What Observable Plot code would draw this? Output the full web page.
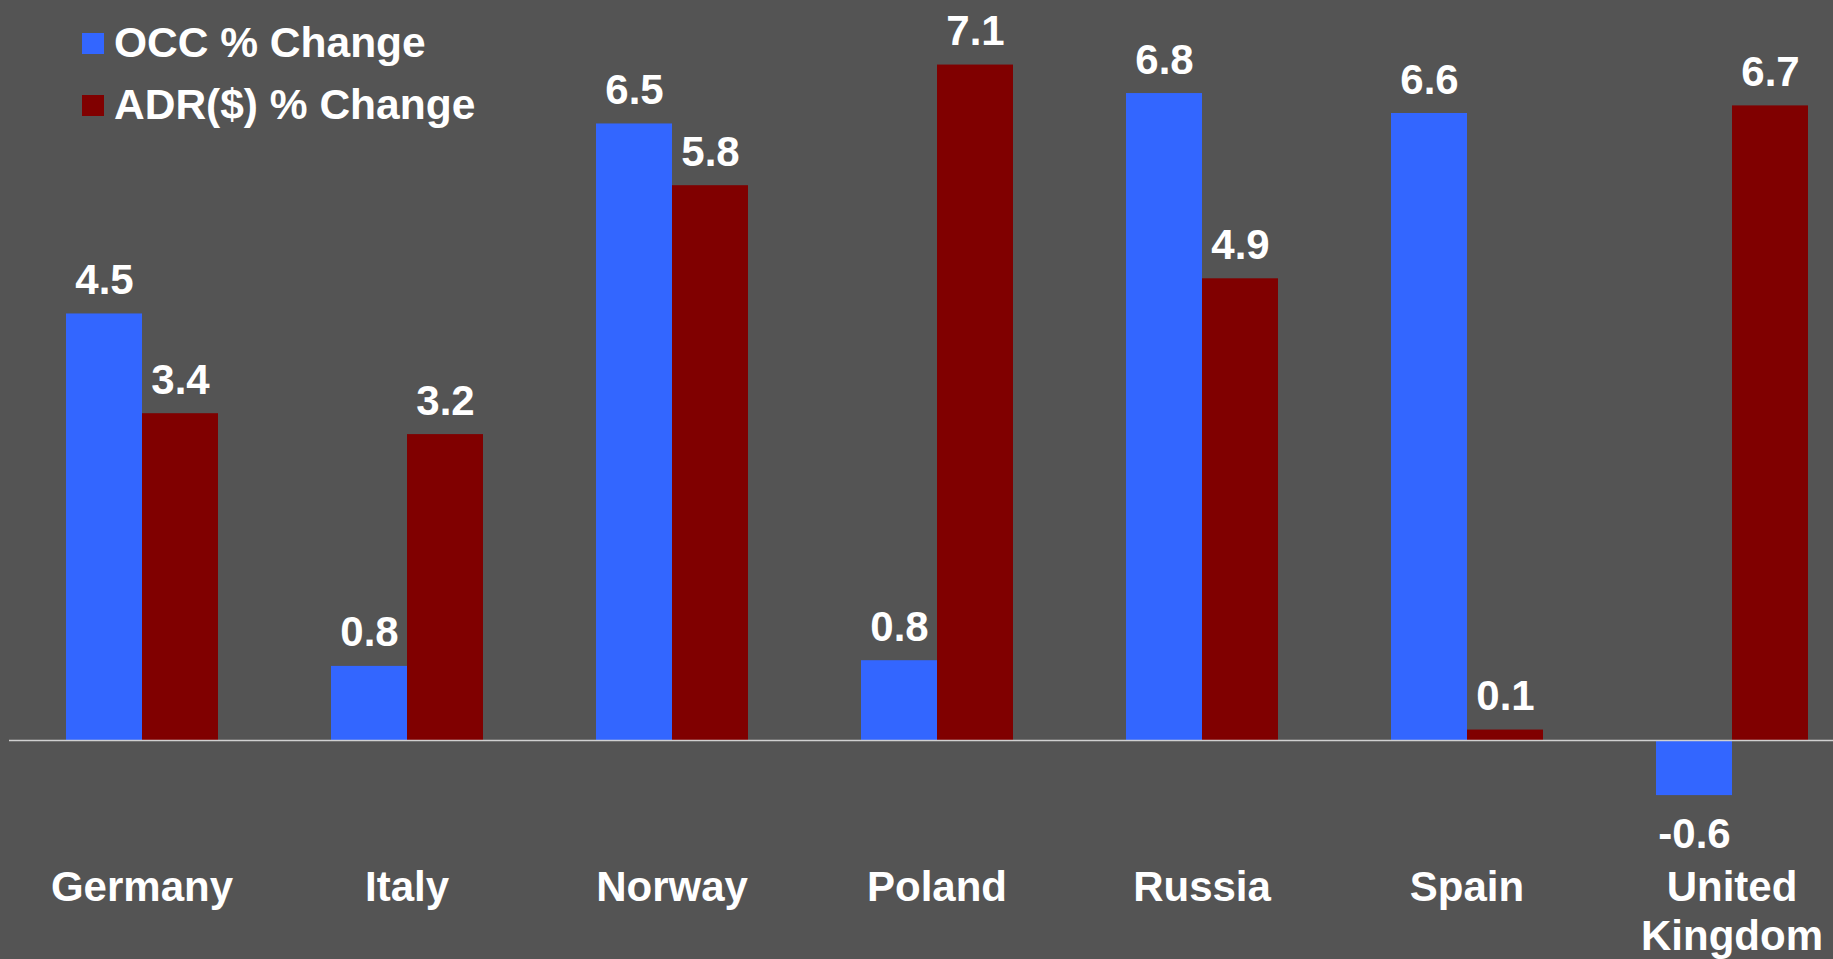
<!DOCTYPE html>
<html>
<head>
<meta charset="utf-8">
<script src="https://cdn.jsdelivr.net/npm/d3@7"></script>
<script src="https://cdn.jsdelivr.net/npm/@observablehq/plot@0.6"></script>
<style>
  html, body { margin: 0; padding: 0; background: #545454; }
  #wrap { position: relative; width: 1833px; height: 959px; overflow: hidden; background: #545454; }
  .lg { position: absolute; left: 0; top: 0; font-family: "Liberation Sans", Arial, sans-serif; font-weight: bold; font-size: 42.5px; color: #ffffff; }
  .lg .item { position: absolute; white-space: nowrap; line-height: 42px; }
  .lg .sw { position: absolute; width: 22px; height: 21px; }
</style>
</head>
<body>
<div id="wrap"></div>
<script>
// ---- data ----
const countries = ["Germany", "Italy", "Norway", "Poland", "Russia", "Spain", "United Kingdom"];
const countryLabels = ["Germany", "Italy", "Norway", "Poland", "Russia", "Spain", "United\nKingdom"];
const seriesNames = ["OCC % Change", "ADR($) % Change"];
// bar values (as drawn) and their printed labels
const occChange = [4.49, 0.78, 6.49, 0.84, 6.81, 6.60, -0.58];
const adrChange = [3.44, 3.22, 5.84, 7.11, 4.86, 0.11, 6.68];
const occLabels = ["4.5", "0.8", "6.5", "0.8", "6.8", "6.6", "-0.6"];
const adrLabels = ["3.4", "3.2", "5.8", "7.1", "4.9", "0.1", "6.7"];
const seriesColors = ["#3366ff", "#800000"];

const data = countries.flatMap((c, i) => [
  {country: c, label: countryLabels[i], series: seriesNames[0], value: occChange[i], text: occLabels[i]},
  {country: c, label: countryLabels[i], series: seriesNames[1], value: adrChange[i], text: adrLabels[i]}
]);

const font = "'Liberation Sans', Arial, sans-serif";

const chart = Plot.plot({
  width: 1833,
  height: 959,
  marginTop: 0,
  marginLeft: 9,
  marginRight: 0,
  marginBottom: 94,
  style: {background: "#545454", color: "#ffffff", fontFamily: font},
  facet: {data, x: "country"},
  fx: {domain: countries, range: [9, 1864], padding: 0, axis: null},
  x: {domain: seriesNames, paddingInner: 0, paddingOuter: 0.743, axis: null},
  y: {domain: [-1, 7.5], range: [835, 27.5], axis: null},
  color: {domain: seriesNames, range: seriesColors},
  marks: [
    Plot.barY(data, {x: "series", y: "value", fill: "series"}),
    Plot.ruleY([0], {stroke: "#d0d0d0", strokeWidth: 1.5}),
    Plot.text(data, {
      filter: d => d.value >= 0, x: "series", y: "value",
      text: "text", lineAnchor: "bottom", dy: -20,
      fill: "#ffffff", fontSize: 42, fontWeight: "bold"
    }),
    Plot.text(data, {
      filter: d => d.value < 0, x: "series", y: "value",
      text: "text", lineAnchor: "top", dy: 23,
      fill: "#ffffff", fontSize: 42, fontWeight: "bold"
    }),
    Plot.text(data, {
      filter: d => d.series === seriesNames[0],
      text: "label", frameAnchor: "bottom", lineAnchor: "top", lineHeight: 1.18,
      fill: "#ffffff", fontSize: 42, fontWeight: "bold"
    })
  ]
});

const wrap = document.getElementById("wrap");
wrap.appendChild(chart);

// legend overlay
const lg = document.createElement("div");
lg.className = "lg";
const legendTops = [21.5, 83.5];
seriesNames.forEach((name, i) => {
  const sw = document.createElement("div");
  sw.className = "sw";
  sw.style.left = "82px";
  sw.style.top = (legendTops[i] + 11) + "px";
  sw.style.background = seriesColors[i];
  lg.appendChild(sw);
  const t = document.createElement("div");
  t.className = "item";
  t.style.left = "114px";
  t.style.top = legendTops[i] + "px";
  t.textContent = name;
  lg.appendChild(t);
});
wrap.appendChild(lg);
</script>
</body>
</html>
